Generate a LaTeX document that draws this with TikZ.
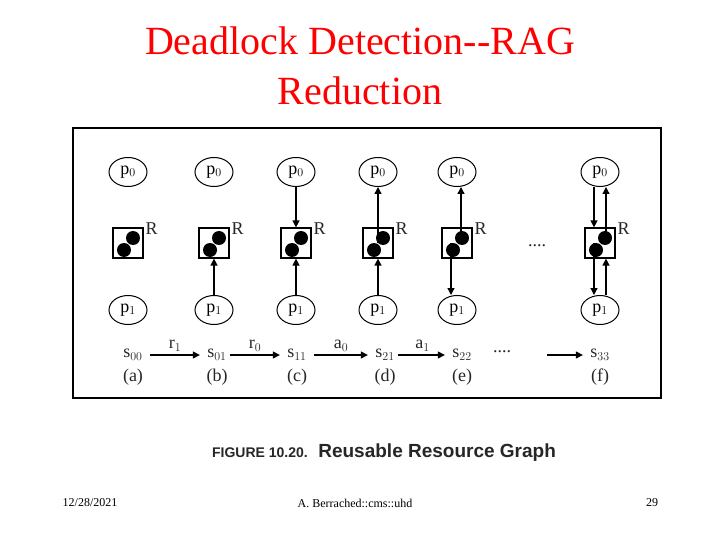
\documentclass[tikz,border=0pt]{standalone}
\usepackage{fontspec}
\setmainfont{Liberation Serif}
\newfontfamily\capfont{Liberation Sans}
\usetikzlibrary{arrows.meta,shapes.geometric}
\begin{document}
\begin{tikzpicture}[x=1pt,y=-1pt,
  proc/.style={draw,line width=1pt,ellipse,minimum width=38pt,minimum height=29pt,inner sep=0pt,font=\fontsize{18}{18}\selectfont},
  res/.style={draw,line width=1.2pt,minimum size=30pt,inner sep=0pt},
  dot/.style={fill=black,circle,minimum size=14pt,inner sep=0pt},
  arr/.style={line width=1.3pt,-{Triangle[length=7pt,width=7pt]}},
  lab/.style={font=\fontsize{18}{18}\selectfont,gray!30!black},
  rl/.style={font=\fontsize{18}{18}\selectfont,gray!30!black,anchor=west}]
\useasboundingbox (0,0) rectangle (720,540);
\node[red,font=\fontsize{40}{50}\selectfont,align=center] (title) at (360,66) {Deadlock Detection-{}-RAG\\Reduction};
\node[draw,line width=1.5pt,minimum width=588pt,minimum height=270pt,inner sep=0pt] (frame) at (367,263) {};
\foreach \n/\x in {a/128,b/214,c/296,d/378,e/457,f/600}{
  \node[proc] (p0\n) at (\x,172) {p$_0$};
  \node[proc] (p1\n) at (\x,310) {p$_1$};
  \node[res] (r\n) at (\x,243) {};
  \node[dot] (d1\n) at (\x+5,238) {};
  \node[dot] (d2\n) at (\x-4,250) {};
  \node[rl] (rlab\n) at (\x+14,229) {R};
}
\draw[arr] (p1b) -- (rb);
\draw[arr] (p0c) -- (rc);
\draw[arr] (p1c) -- (rc);
\draw[arr] (rd.center) -- (p0d);
\draw[arr] (p1d) -- (rd);
\draw[arr] ([xshift=4pt]re.center) -- ([xshift=4pt]p0e.south);
\draw[arr] ([xshift=-6pt]re.center) -- ([xshift=-6pt]p1e.north);
\draw[arr] ([xshift=-6pt]p0f.south) -- ([xshift=-6pt]rf.north);
\draw[arr] ([xshift=6pt]rf.center) -- ([xshift=6pt]p0f.south);
\draw[arr] ([xshift=-6pt]rf.center) -- ([xshift=-6pt]p1f.north);
\draw[arr] ([xshift=6pt]p1f.north) -- ([xshift=6pt]rf.south);
\node[lab] (dots1) at (537,246) {....};
\foreach \n/\x/\s/\l in {a/133/00/a,b/217/01/b,c/297/11/c,d/385/21/d,e/462/22/e,f/600/33/f}{
  \node[lab] (s\n) at (\x,355) {s$_{\s}$};
  \node[lab] (l\n) at (\x,377) {(\l)};
}
\node[lab] (sdots) at (502,352) {....};
\draw[arr] ([xshift=4pt]sa.east) -- ([xshift=-4pt]sb.west) node[midway,above,lab] {r$_1$};
\draw[arr] (sb.east) -- ([xshift=-4pt]sc.west) node[midway,above,lab] {r$_0$};
\draw[arr] ([xshift=4pt]sc.east) -- ([xshift=-4pt]sd.west) node[midway,above,lab] {a$_0$};
\draw[arr] (sd.east) -- ([xshift=-4pt]se.west) node[midway,above right,lab,xshift=-10pt] {a$_1$};
\draw[arr] ([xshift=-40pt]sf.west) -- ([xshift=-4pt]sf.west);
\node[font=\capfont\bfseries\fontsize{19}{19}\selectfont,gray!30!black] (cap) at (384,453) {{\fontsize{14}{14}\selectfont FIGURE 10.20.}\ \ Reusable Resource Graph};
\node[font=\fontsize{12}{12}\selectfont] (date) at (90,503) {12/28/2021};
\node[font=\fontsize{12}{12}\selectfont] (auth) at (355,503) {A. Berrached::cms::uhd};
\node[font=\fontsize{12}{12}\selectfont] (pg) at (652,503) {29};
\end{tikzpicture}
\end{document}
